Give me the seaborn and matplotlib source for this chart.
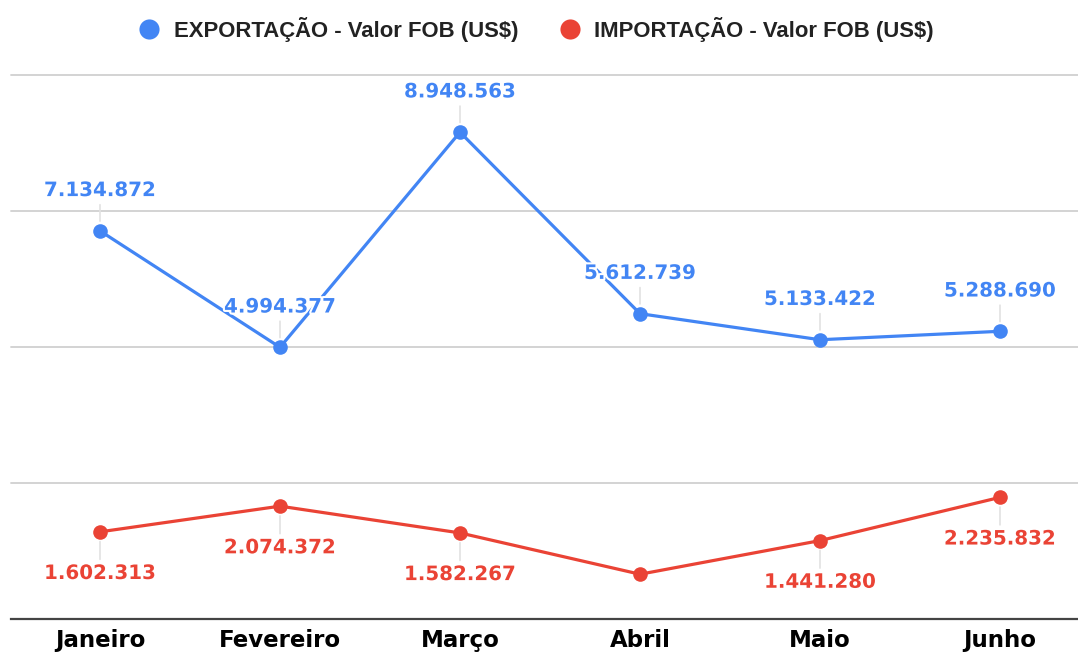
import pandas as pd
import seaborn as sns
import matplotlib.pyplot as plt
import matplotlib.patheffects as pe
from matplotlib.lines import Line2D

# --- data ---
meses = ['Janeiro', 'Fevereiro', 'Março', 'Abril', 'Maio', 'Junho']
exportacao = [7134872, 4994377, 8948563, 5612739, 5133422, 5288690]
importacao = [1602313, 2074372, 1582267, 823000, 1441280, 2235832]
# Abril (importação) has no visible label in the chart
mostrar_imp = [True, True, True, False, True, True]

serie_exp = 'EXPORTAÇÃO - Valor FOB (US$)'
serie_imp = 'IMPORTAÇÃO - Valor FOB (US$)'
azul = '#4285F4'
vermelho = '#EA4335'


def fmt(v):
    return f"{v:,}".replace(',', '.')


df = pd.DataFrame({
    'mes': meses * 2,
    'valor': exportacao + importacao,
    'serie': [serie_exp] * len(meses) + [serie_imp] * len(meses),
})

sns.set_style('white')
plt.rcParams['font.family'] = ['DejaVu Sans']

fig = plt.figure(figsize=(10.78, 6.53), dpi=100)
W, H = 1078, 653
ax = fig.add_axes([11 / W, (H - 619) / H, 1 - 11 / W, (619 - 75) / H])

sns.lineplot(data=df, x='mes', y='valor', hue='serie', sort=False,
             palette={serie_exp: azul, serie_imp: vermelho},
             marker='o', markersize=10.5, markeredgewidth=0,
             linewidth=2.3, legend=False, ax=ax, zorder=3)

ax.set_xlim(-89 / 180, 978 / 180)
ax.set_ylim(0, 10_000_000)
ax.set_yticks([0, 2_500_000, 5_000_000, 7_500_000, 10_000_000])
ax.set_yticklabels([])
ax.grid(axis='y', color='#d0d0d0', linewidth=1.3)
ax.grid(axis='x', visible=False)
for gl in ax.yaxis.get_gridlines():
    gl.set_clip_on(False)
ax.set_xlabel('')
ax.set_ylabel('')
for s in ['top', 'right', 'left']:
    ax.spines[s].set_visible(False)
ax.spines['bottom'].set_color('#444444')
ax.spines['bottom'].set_linewidth(1.6)
ax.spines['bottom'].set_zorder(4)
ax.tick_params(axis='both', length=0)
ax.tick_params(axis='x', pad=7)
for lbl in ax.get_xticklabels():
    lbl.set_fontsize(16.5)
    lbl.set_fontweight('bold')
    lbl.set_color('black')

halo = [pe.withStroke(linewidth=3, foreground='white')]
leader = dict(arrowstyle='-', color='#e2e2e2', lw=1.2, shrinkA=1, shrinkB=7)

for i, v in enumerate(exportacao):
    ax.annotate(fmt(v), xy=(i, v), xytext=(0, 29), textcoords='offset points',
                ha='center', va='center', fontsize=14.3, fontweight='bold',
                color=azul, path_effects=halo, arrowprops=leader,
                zorder=5, annotation_clip=False)

for i, v in enumerate(importacao):
    if not mostrar_imp[i]:
        continue
    ax.annotate(fmt(v), xy=(i, v), xytext=(0, -30), textcoords='offset points',
                ha='center', va='center', fontsize=14.3, fontweight='bold',
                color=vermelho, path_effects=halo, arrowprops=leader,
                zorder=5, annotation_clip=False)

# legend on top
leg_font = dict(family=['Liberation Sans', 'DejaVu Sans'], weight='bold', size=15.9)
handles = [
    Line2D([], [], marker='o', linestyle='none', markersize=14.5,
           markerfacecolor=azul, markeredgewidth=0),
    Line2D([], [], marker='o', linestyle='none', markersize=14.5,
           markerfacecolor=vermelho, markeredgewidth=0),
]
leg = fig.legend(handles, [serie_exp, serie_imp], loc='center',
                 bbox_to_anchor=(536 / W, 1 - 29 / H), ncol=2,
                 frameon=False, prop=leg_font, handlelength=1.0,
                 handletextpad=0.6, columnspacing=1.85, borderaxespad=0)
for t in leg.get_texts():
    t.set_color('#222222')

fig.savefig('out.png', dpi=100)
